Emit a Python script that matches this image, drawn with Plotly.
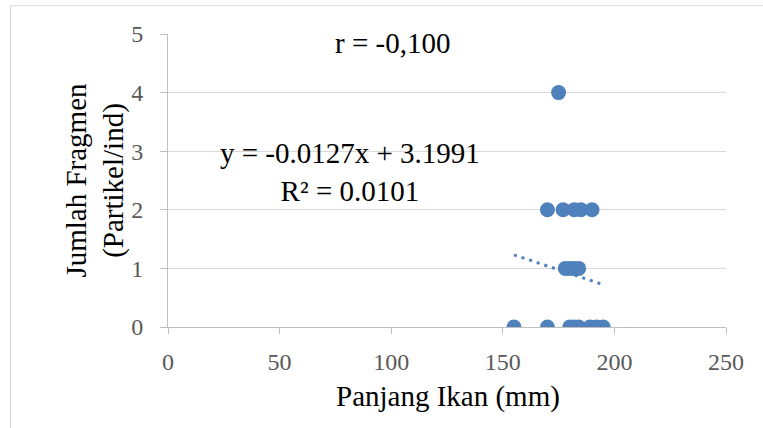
import plotly.graph_objects as go

# Data
panjang_ikan = [155, 170, 180, 182, 184, 189, 192, 195,
                178, 180, 182, 184,
                170, 177, 182, 185, 190,
                175]
jumlah_fragmen = [0, 0, 0, 0, 0, 0, 0, 0,
                  1, 1, 1, 1,
                  2, 2, 2, 2, 2,
                  4]

trend_slope = -0.0127
trend_intercept = 3.1991
trend_x = [min(panjang_ikan), max(panjang_ikan)]
trend_y = [trend_slope * v + trend_intercept for v in trend_x]

x_ticks = [0, 50, 100, 150, 200, 250]
y_ticks = [0, 1, 2, 3, 4, 5]

blue = "#4F81BD"
serif = "Liberation Serif, Times New Roman, serif"

fig = go.Figure()
fig.add_trace(go.Scatter(x=trend_x, y=trend_y, mode="lines",
                         line=dict(color=blue, width=3, dash="3px,5px"),
                         hoverinfo="skip", showlegend=False))
fig.add_trace(go.Scatter(x=panjang_ikan, y=jumlah_fragmen, mode="markers",
                         marker=dict(color=blue, size=15, line=dict(width=0)),
                         showlegend=False))

fig.update_layout(
    width=763, height=428,
    margin=dict(l=168, r=37, t=34, b=101),
    paper_bgcolor="white", plot_bgcolor="white",
    font=dict(family=serif, color="#595959"),
    xaxis=dict(range=[0, 250], tickvals=x_ticks, showgrid=False, zeroline=False,
               showline=True, linecolor="#bfbfbf", linewidth=1,
               ticks="outside", ticklen=6, tickcolor="#bfbfbf",
               tickfont=dict(size=24, color="#595959", family=serif),
               ticklabelstandoff=7),
    yaxis=dict(range=[0, 5], tickvals=y_ticks, showgrid=True, gridcolor="#d9d9d9",
               gridwidth=1, zeroline=False,
               showline=True, linecolor="#bfbfbf", linewidth=1,
               ticks="outside", ticklen=7, tickcolor="#bfbfbf",
               tickfont=dict(size=24, color="#595959", family=serif),
               ticklabelstandoff=12),
    shapes=[dict(type="rect", xref="paper", yref="paper",
                 x0=-0.2823, x1=1.3, y0=-0.6, y1=1.0967,
                 line=dict(color="#d9d9d9", width=1), fillcolor="rgba(0,0,0,0)",
                 layer="below")],
    annotations=[
        dict(text="Panjang Ikan (mm)", xref="paper", yref="paper", x=0.501, y=-0.236,
             xanchor="center", yanchor="middle", showarrow=False,
             font=dict(size=29, color="black", family=serif)),
        dict(text="Jumlah Fragmen<br>(Partikel/ind)", xref="paper", yref="paper",
             x=-0.1307, y=0.5, xanchor="center", yanchor="middle", textangle=-90,
             showarrow=False, font=dict(size=29, color="black", family=serif)),
        dict(text="r = -0,100", xref="x", yref="y", x=100.7, y=4.84,
             xanchor="center", yanchor="middle", showarrow=False,
             font=dict(size=29, color="black", family=serif)),
        dict(text="y = -0.0127x + 3.1991<br>R² = 0.0101", xref="x", yref="y",
             x=81.6, y=2.64, xanchor="center", yanchor="middle", showarrow=False,
             font=dict(size=29, color="black", family=serif)),
    ],
)

fig.write_html("out.html", config={"displayModeBar": False},
               post_script="document.body.style.margin='0px';document.body.style.overflow='hidden';")
